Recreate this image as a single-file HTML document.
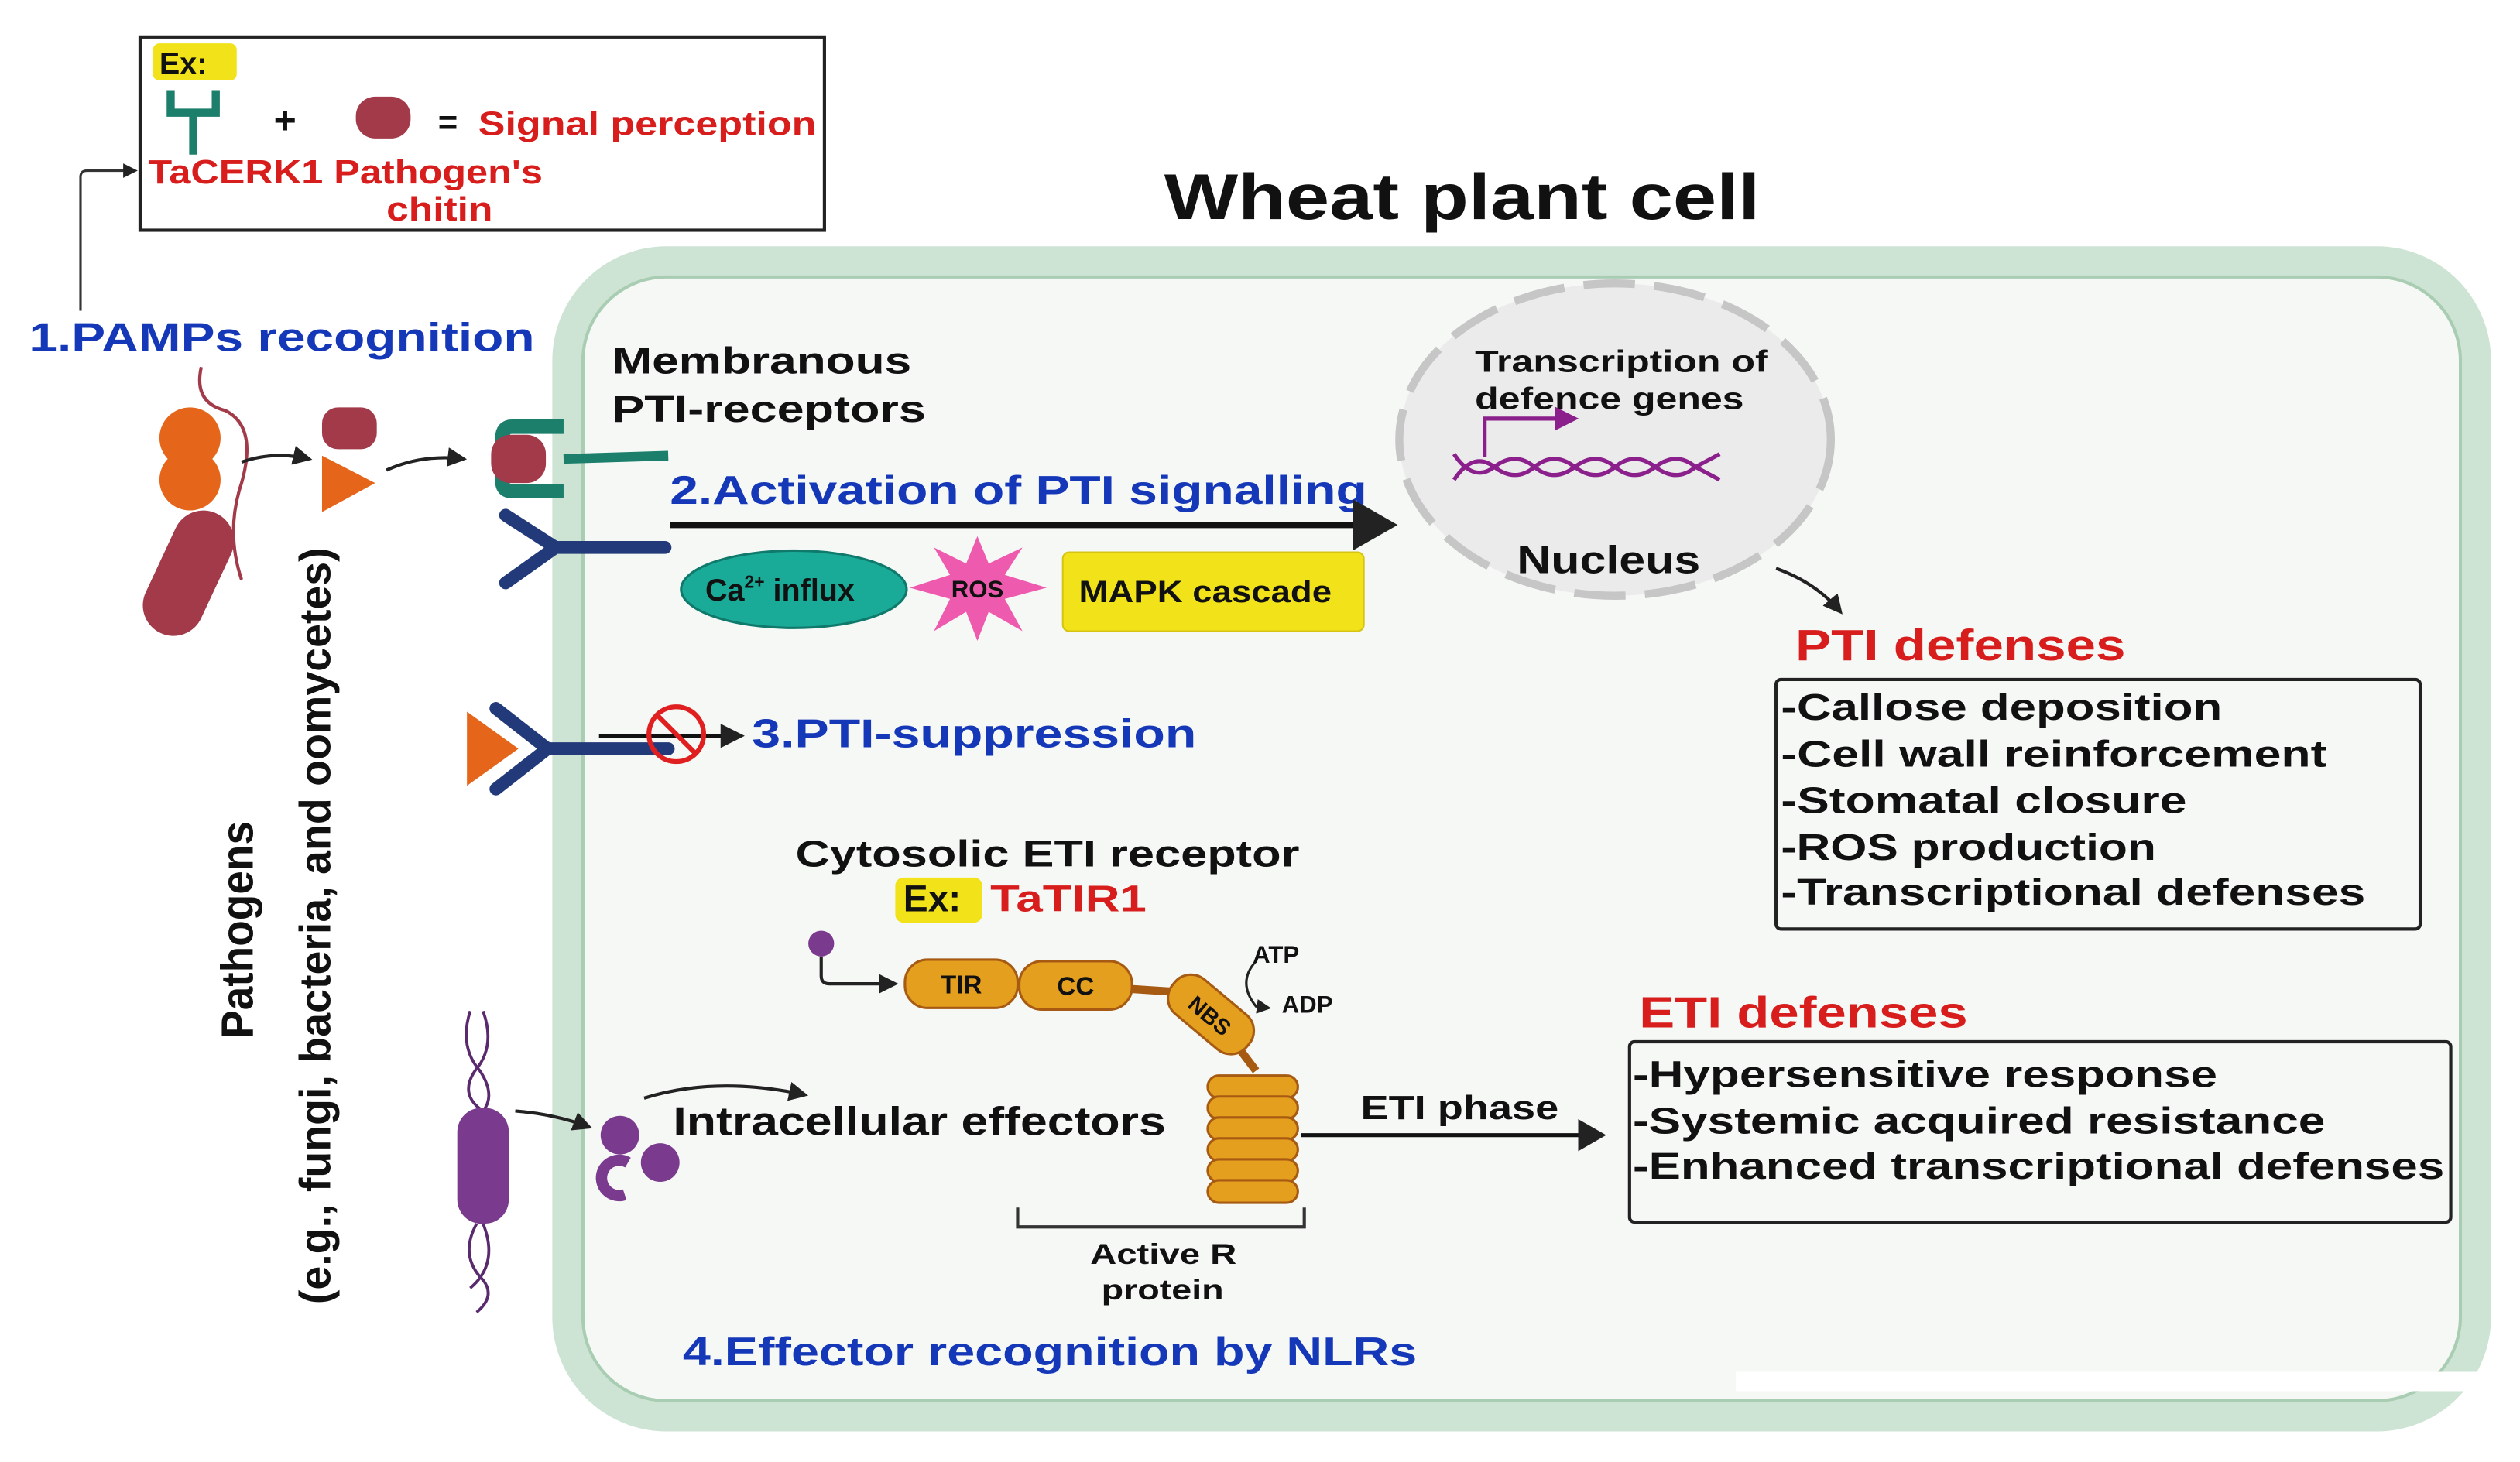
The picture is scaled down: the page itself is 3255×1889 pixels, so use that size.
<!DOCTYPE html>
<html><head><meta charset="utf-8"><style>
html,body{margin:0;padding:0;background:#fff}
svg{display:block}
text{font-family:"Liberation Sans",sans-serif;font-weight:bold}
</style></head><body>
<svg width="3255" height="1889" viewBox="0 0 1565 908" preserveAspectRatio="none" xmlns="http://www.w3.org/2000/svg">
<defs>
<marker id="ah" markerWidth="8" markerHeight="8" refX="6" refY="4" orient="auto" markerUnits="strokeWidth"><path d="M0,0 L7,4 L0,8 z" fill="#222"/></marker>
<marker id="ahs" markerWidth="6" markerHeight="6" refX="5" refY="3" orient="auto"><path d="M0,0 L6,3 L0,6 z" fill="#222"/></marker>
<marker id="ahp" markerWidth="6" markerHeight="6" refX="5" refY="3" orient="auto"><path d="M0,0 L6,3 L0,6 z" fill="#8b1f8b"/></marker>
</defs>
<!-- cell -->
<rect x="352" y="162" width="1186" height="718" rx="62" fill="#f6f8f6" stroke="#cde3d3" stroke-width="18"/>
<rect x="362" y="172" width="1166" height="698" rx="52" fill="none" stroke="#a9cdb3" stroke-width="2"/>
<rect x="1078" y="852" width="478" height="12" fill="#fff"/>
<text x="723" y="136" font-size="40" textLength="370" lengthAdjust="spacingAndGlyphs" fill="#111">Wheat plant cell</text>

<!-- Ex box -->
<rect x="87" y="23" width="425" height="120" fill="#fff" stroke="#222" stroke-width="2"/>
<rect x="95" y="27" width="52" height="23" rx="4" fill="#f1e21a"/>
<text x="99" y="46" font-size="19" fill="#111">Ex:</text>
<path d="M106,56 V70 H134 V56 M120,70 V96" fill="none" stroke="#1c7f6c" stroke-width="5"/>
<text x="170" y="83" font-size="24" fill="#111">+</text>
<rect x="221" y="60" width="34" height="26" rx="12" fill="#a23a4a"/>
<text x="272" y="83" font-size="21" fill="#111">=</text>
<text x="297" y="84" font-size="21" textLength="210" lengthAdjust="spacingAndGlyphs" fill="#d81d1d">Signal perception</text>
<text x="92" y="114" font-size="21" textLength="245" lengthAdjust="spacingAndGlyphs" fill="#d81d1d">TaCERK1 Pathogen's</text>
<text x="240" y="137" font-size="21" textLength="66" lengthAdjust="spacingAndGlyphs" fill="#d81d1d">chitin</text>
<path d="M50,193 V110 Q50,106 54,106 H84" fill="none" stroke="#333" stroke-width="1.5" marker-end="url(#ahs)"/>

<text x="18" y="218" font-size="25" textLength="314" lengthAdjust="spacingAndGlyphs" fill="#1538b8">1.PAMPs recognition</text>
<!-- pathogens -->
<path d="M125,228 Q120,250 140,255 Q160,265 150,300 Q140,330 150,360" fill="none" stroke="#a23a4a" stroke-width="2"/>
<circle cx="118" cy="272" r="19" fill="#e5661b"/>
<circle cx="118" cy="298" r="19" fill="#e5661b"/>
<rect x="98" y="315" width="38" height="82" rx="19" fill="#a23a4a" transform="rotate(25 117 356)"/>
<rect x="200" y="253" width="34" height="26" rx="10" fill="#a23a4a"/>
<path d="M200,283 L233,300 L200,318 z" fill="#e5661b"/>
<path d="M150,287 Q170,280 192,285" fill="none" stroke="#222" stroke-width="2" marker-end="url(#ahs)"/>
<path d="M240,292 Q262,282 288,285" fill="none" stroke="#222" stroke-width="2" marker-end="url(#ahs)"/>
<text transform="translate(157,645) rotate(-90)" font-size="28" textLength="135" lengthAdjust="spacingAndGlyphs" fill="#111">Pathogens</text>
<text transform="translate(205,810) rotate(-90)" font-size="27" textLength="470" lengthAdjust="spacingAndGlyphs" fill="#111">(e.g., fungi, bacteria, and oomycetes)</text>

<!-- receptors -->
<path d="M350,265 H318 Q312,265 312,272 V299 Q312,305 318,305 H350" fill="none" stroke="#1c7f6c" stroke-width="9"/>
<rect x="305" y="270" width="34" height="30" rx="12" fill="#a23a4a"/>
<line x1="350" y1="285" x2="415" y2="283" stroke="#1c7f6c" stroke-width="6"/>
<path d="M314,320 L345,340 L314,362 M345,340 H413" fill="none" stroke="#233a7a" stroke-width="8" stroke-linecap="round"/>
<text x="380" y="232" font-size="23" textLength="186" lengthAdjust="spacingAndGlyphs" fill="#111">Membranous</text>
<text x="380" y="262" font-size="23" textLength="195" lengthAdjust="spacingAndGlyphs" fill="#111">PTI-receptors</text>
<text x="416" y="313" font-size="25" textLength="433" lengthAdjust="spacingAndGlyphs" fill="#1538b8">2.Activation of PTI signalling</text>
<line x1="416" y1="326" x2="864" y2="326" stroke="#111" stroke-width="4" marker-end="url(#ah)"/>
<ellipse cx="493" cy="366" rx="70" ry="24" fill="#1aaa98" stroke="#0f7a6c" stroke-width="1.5"/>
<text x="438" y="373" font-size="19" fill="#111">Ca<tspan font-size="11" dy="-8">2+</tspan><tspan dy="8"> influx</tspan></text>
<polygon points="607,333 614,350 635,340 624,357 650,365 624,372 635,392 614,380 607,398 600,380 580,392 590,372 565,365 590,357 580,340 600,350" fill="#ee5aae"/>
<text x="607" y="371" font-size="15" text-anchor="middle" fill="#111">ROS</text>
<rect x="660" y="343" width="187" height="49" rx="4" fill="#f1e21a" stroke="#d6c412"/>
<text x="670" y="374" font-size="19" textLength="157" lengthAdjust="spacingAndGlyphs" fill="#111">MAPK cascade</text>

<!-- nucleus -->
<ellipse cx="1003" cy="273" rx="134" ry="97" fill="#ebebeb" stroke="#c6c6c6" stroke-width="5" stroke-dasharray="32 12"/>
<text x="916" y="231" font-size="19" textLength="182" lengthAdjust="spacingAndGlyphs" fill="#111">Transcription of</text>
<text x="916" y="254" font-size="19" textLength="167" lengthAdjust="spacingAndGlyphs" fill="#111">defence genes</text>
<path d="M922,284 V260 H978" fill="none" stroke="#8b1f8b" stroke-width="2.5" marker-end="url(#ahp)"/>
<path d="M903,282 Q915,300 928,290 T953,290 T978,290 T1003,290 T1028,290 T1053,290 L1068,282" fill="none" stroke="#8b1f8b" stroke-width="2.5"/>
<path d="M903,298 Q915,280 928,290 T953,290 T978,290 T1003,290 T1028,290 T1053,290 L1068,298" fill="none" stroke="#8b1f8b" stroke-width="2.5"/>
<text x="942" y="356" font-size="24" textLength="114" lengthAdjust="spacingAndGlyphs" fill="#111">Nucleus</text>
<path d="M1103,353 Q1128,362 1143,380" fill="none" stroke="#222" stroke-width="2" marker-end="url(#ahs)"/>

<text x="1115" y="410" font-size="27" textLength="205" lengthAdjust="spacingAndGlyphs" fill="#d81d1d">PTI defenses</text>
<rect x="1103" y="422" width="400" height="155" rx="3" fill="none" stroke="#222" stroke-width="2"/>
<g font-size="23" fill="#111">
<text x="1106" y="447" textLength="274" lengthAdjust="spacingAndGlyphs">-Callose deposition</text>
<text x="1106" y="476" textLength="339" lengthAdjust="spacingAndGlyphs">-Cell wall reinforcement</text>
<text x="1106" y="505" textLength="252" lengthAdjust="spacingAndGlyphs">-Stomatal closure</text>
<text x="1106" y="534" textLength="233" lengthAdjust="spacingAndGlyphs">-ROS production</text>
<text x="1106" y="562" textLength="363" lengthAdjust="spacingAndGlyphs">-Transcriptional defenses</text>
</g>

<!-- suppression -->
<path d="M290,442 L322,465 L290,488 z" fill="#e5661b"/>
<path d="M308,440 L340,465 L308,490 M340,465 H415" fill="none" stroke="#233a7a" stroke-width="8" stroke-linecap="round"/>
<line x1="372" y1="457" x2="460" y2="457" stroke="#111" stroke-width="2.5" marker-end="url(#ahs)"/>
<circle cx="420" cy="456" r="17" fill="none" stroke="#e02020" stroke-width="3"/>
<line x1="408" y1="444" x2="432" y2="468" stroke="#e02020" stroke-width="3"/>
<text x="467" y="464" font-size="25" textLength="276" lengthAdjust="spacingAndGlyphs" fill="#1538b8">3.PTI-suppression</text>

<!-- ETI receptor -->
<text x="494" y="538" font-size="23" textLength="313" lengthAdjust="spacingAndGlyphs" fill="#111">Cytosolic ETI receptor</text>
<rect x="556" y="545" width="54" height="28" rx="5" fill="#f1e21a"/>
<text x="561" y="566" font-size="23" fill="#111">Ex:</text>
<text x="615" y="566" font-size="23" textLength="97" lengthAdjust="spacingAndGlyphs" fill="#d81d1d">TaTIR1</text>
<circle cx="510" cy="586" r="8" fill="#7a3a8e"/>
<path d="M510,594 V606 Q510,611 515,611 H556" fill="none" stroke="#222" stroke-width="2" marker-end="url(#ahs)"/>
<path d="M668,612 L730,616 L752,628 L780,665" fill="none" stroke="#a65a12" stroke-width="5"/>
<rect x="562" y="596" width="70" height="30" rx="14" fill="#e59f1e" stroke="#a65a12" stroke-width="1.5"/>
<text x="597" y="617" font-size="16" text-anchor="middle" fill="#111">TIR</text>
<rect x="633" y="597" width="70" height="30" rx="14" fill="#e59f1e" stroke="#a65a12" stroke-width="1.5"/>
<text x="668" y="618" font-size="16" text-anchor="middle" fill="#111">CC</text>
<g transform="rotate(40 752 630)"><rect x="722" y="616" width="60" height="28" rx="13" fill="#e59f1e" stroke="#a65a12" stroke-width="1.5"/><text x="752" y="636" font-size="14" text-anchor="middle" fill="#111">NBS</text></g>
<g fill="#e59f1e" stroke="#a65a12" stroke-width="1.5">
<rect x="750" y="668" width="56" height="14" rx="7"/>
<rect x="750" y="681" width="56" height="14" rx="7"/>
<rect x="750" y="694" width="56" height="14" rx="7"/>
<rect x="750" y="707" width="56" height="14" rx="7"/>
<rect x="750" y="720" width="56" height="14" rx="7"/>
<rect x="750" y="733" width="56" height="14" rx="7"/>
</g>
<path d="M780,597 Q768,610 780,625 L788,626" fill="none" stroke="#222" stroke-width="1.5" marker-end="url(#ahs)"/>
<text x="778" y="598" font-size="15" fill="#111">ATP</text>
<text x="796" y="629" font-size="15" fill="#111">ADP</text>
<path d="M632,750 V762 H810 V750" fill="none" stroke="#333" stroke-width="2"/>
<text x="677" y="785" font-size="18" textLength="91" lengthAdjust="spacingAndGlyphs" fill="#111">Active R</text>
<text x="684" y="807" font-size="18" textLength="76" lengthAdjust="spacingAndGlyphs" fill="#111">protein</text>

<!-- effector pathogen -->
<path d="M292,628 Q285,650 298,665 Q308,680 300,690 M300,628 Q308,650 295,665 Q285,680 300,690 M296,760 Q285,780 300,795 Q308,805 296,815 M300,760 Q310,785 292,800" fill="none" stroke="#5a2a6e" stroke-width="1.8"/>
<rect x="284" y="688" width="32" height="72" rx="15" fill="#7a3a8e"/>
<path d="M320,690 Q345,692 366,700" fill="none" stroke="#222" stroke-width="2" marker-end="url(#ahs)"/>
<circle cx="385" cy="705" r="12" fill="#7a3a8e"/>
<circle cx="410" cy="722" r="12" fill="#7a3a8e"/>
<path d="M390,722 A11,11 0 1 0 388,742" fill="none" stroke="#7a3a8e" stroke-width="7"/>
<path d="M400,682 Q445,668 500,680" fill="none" stroke="#222" stroke-width="2" marker-end="url(#ahs)"/>
<text x="418" y="705" font-size="25" textLength="306" lengthAdjust="spacingAndGlyphs" fill="#111">Intracellular effectors</text>

<text x="845" y="695" font-size="21" textLength="123" lengthAdjust="spacingAndGlyphs" fill="#111">ETI phase</text>
<line x1="808" y1="705" x2="995" y2="705" stroke="#111" stroke-width="2.5" marker-end="url(#ah)"/>
<text x="1018" y="638" font-size="27" textLength="204" lengthAdjust="spacingAndGlyphs" fill="#d81d1d">ETI defenses</text>
<rect x="1012" y="647" width="510" height="112" rx="3" fill="none" stroke="#222" stroke-width="2"/>
<g font-size="23" fill="#111">
<text x="1014" y="675" textLength="363" lengthAdjust="spacingAndGlyphs">-Hypersensitive response</text>
<text x="1014" y="704" textLength="430" lengthAdjust="spacingAndGlyphs">-Systemic acquired resistance</text>
<text x="1014" y="732" textLength="504" lengthAdjust="spacingAndGlyphs">-Enhanced transcriptional defenses</text>
</g>
<text x="424" y="848" font-size="25" textLength="456" lengthAdjust="spacingAndGlyphs" fill="#1538b8">4.Effector recognition by NLRs</text>
</svg>
</body></html>
